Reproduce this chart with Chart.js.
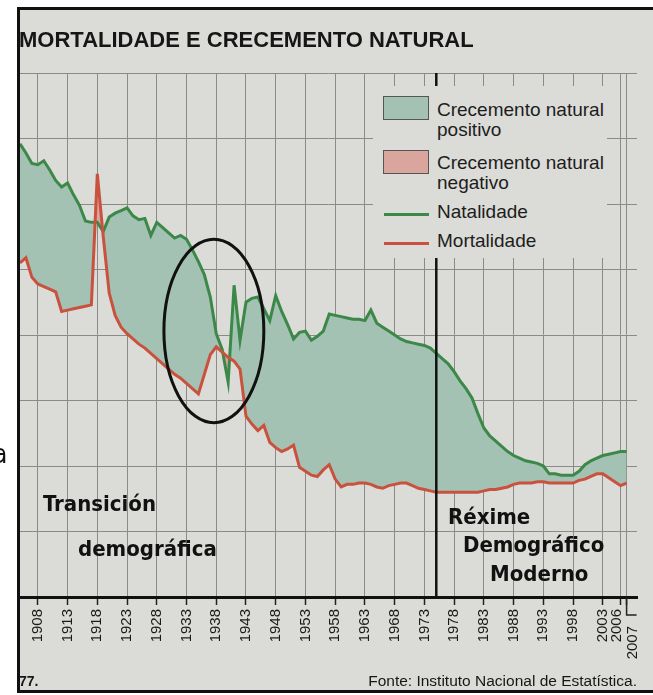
<!DOCTYPE html>
<html>
<head>
<meta charset="utf-8">
<script src="https://cdn.jsdelivr.net/npm/chart.js@4.4.1/dist/chart.umd.min.js"></script>
<style>
  html, body { margin: 0; padding: 0; background: #fff; }
  #page { position: relative; width: 653px; height: 695px; overflow: hidden; font-family: "Liberation Sans", Arial, sans-serif; color: #161616; }
  #frame { position: absolute; left: 17px; top: 7px; width: 640px; height: 680px; background: #dbdbd7;
           border-top: 3px solid #111; border-left: 3px solid #111; border-bottom: 3px solid #111; }
  #chart { position: absolute; left: 0; top: 0; }
  .txt { position: absolute; white-space: nowrap; z-index: 2; }
  .title { left: 19px; top: 29px; font-weight: bold; font-size: 22px; line-height: 22px; }
  .hand { font-family: "DejaVu Sans Condensed", "DejaVu Sans", sans-serif; font-stretch: condensed; font-weight: bold; font-size: 22px; line-height: 22px; color: #111; }
  #legend { position: absolute; left: 373px; top: 86px; width: 234px; height: 172px; background: #dbdbd7; z-index: 2; }
  .leg { position: absolute; left: 64px; font-size: 19px; line-height: 20px; white-space: nowrap; color: #1d1d1d; }
  .sw { position: absolute; left: 10px; width: 44px; height: 22px; border: 1px solid #555; }
  .ln { position: absolute; left: 11px; width: 45px; height: 3px; }
</style>
</head>
<body>
<div id="page">
  <div id="frame"></div>
  <canvas id="chart" width="653" height="695"></canvas>
  <div class="txt title">MORTALIDADE E CRECEMENTO NATURAL</div>
  <div id="legend"></div>
  <div class="txt hand" style="left:43px; top:493px;">Transición</div>
  <div class="txt hand" style="left:78px; top:538px;">demográfica</div>
  <div class="txt hand" style="left:448px; top:506px;">Réxime</div>
  <div class="txt hand" style="left:463px; top:534px;">Demográfico</div>
  <div class="txt hand" style="left:490px; top:563px;">Moderno</div>
  <div class="txt hand" style="left:-7px; top:443px; font-size:26px; font-weight:normal;">a</div>
  <div class="txt" style="left:19px; top:674px; font-size:14px; line-height:14px; font-weight:bold;">77.</div>
  <div class="txt" style="right:16px; top:673px; font-size:15.5px; line-height:16px;">Fonte: Instituto Nacional de Estatística.</div>
</div>
<script>
// taxas por mil habitantes
const years = [1905, 1906, 1907, 1908, 1909, 1910, 1911, 1912, 1913, 1914,
  1915, 1916, 1917, 1918, 1919, 1920, 1921, 1922, 1923, 1924,
  1925, 1926, 1927, 1928, 1929, 1930, 1931, 1932, 1933, 1934,
  1935, 1936, 1937, 1938, 1939, 1940, 1941, 1942, 1943, 1944,
  1945, 1946, 1947, 1948, 1949, 1950, 1951, 1952, 1953, 1954,
  1955, 1956, 1957, 1958, 1959, 1960, 1961, 1962, 1963, 1964,
  1965, 1966, 1967, 1968, 1969, 1970, 1971, 1972, 1973, 1974,
  1975, 1976, 1977, 1978, 1979, 1980, 1981, 1982, 1983, 1984,
  1985, 1986, 1987, 1988, 1989, 1990, 1991, 1992, 1993, 1994,
  1995, 1996, 1997, 1998, 1999, 2000, 2001, 2002, 2003, 2004,
  2005, 2006, 2007];

const natalidade = [34.6, 33.9, 33.1, 33.0, 33.3, 32.6, 31.8, 31.3, 31.6, 30.7,
  29.9, 28.7, 28.6, 28.6, 27.9, 29.0, 29.3, 29.5, 29.7, 29.1,
  28.8, 28.9, 27.6, 28.6, 28.2, 27.8, 27.4, 27.6, 27.3, 26.5,
  25.6, 24.6, 22.9, 20.1, 18.9, 16.4, 23.8, 19.6, 22.5, 22.8,
  22.9, 22.0, 21.1, 23.0, 21.8, 20.8, 19.7, 20.2, 20.3, 19.6,
  19.9, 20.3, 21.6, 21.5, 21.4, 21.3, 21.2, 21.2, 21.1, 21.9,
  20.9, 20.6, 20.3, 20.0, 19.7, 19.5, 19.4, 19.3, 19.2, 19.0,
  18.6, 18.2, 17.8, 17.2, 16.5, 15.9, 15.2, 14.0, 12.9, 12.3,
  11.9, 11.5, 11.1, 10.8, 10.6, 10.4, 10.3, 10.2, 10.0, 9.4,
  9.4, 9.3, 9.3, 9.3, 9.6, 10.1, 10.4, 10.6, 10.8, 10.9,
  11.0, 11.1, 11.1];

const mortalidade = [25.5, 25.9, 24.4, 23.9, 23.7, 23.5, 23.3, 21.8, 21.9, 22.0,
  22.1, 22.2, 22.3, 32.3, 27.5, 23.2, 21.5, 20.6, 20.1, 19.7,
  19.3, 19.0, 18.6, 18.2, 17.8, 17.4, 17.0, 16.7, 16.3, 15.9,
  15.5, 17.0, 18.5, 19.1, 18.7, 18.3, 18.0, 17.4, 13.8, 13.2,
  12.7, 13.1, 11.8, 11.4, 11.1, 11.3, 11.6, 9.9, 9.6, 9.3,
  9.2, 9.7, 10.1, 9.0, 8.4, 8.6, 8.6, 8.7, 8.7, 8.6,
  8.4, 8.3, 8.5, 8.6, 8.7, 8.7, 8.5, 8.3, 8.2, 8.1,
  8.0, 8.0, 8.0, 8.0, 8.0, 8.0, 8.0, 8.0, 8.1, 8.2,
  8.2, 8.3, 8.4, 8.6, 8.7, 8.7, 8.7, 8.8, 8.8, 8.7,
  8.7, 8.7, 8.7, 8.7, 8.9, 9.0, 9.2, 9.4, 9.4, 9.1,
  8.8, 8.5, 8.7];

const tickYears = [1908, 1913, 1918, 1923, 1928, 1933, 1938, 1943, 1948, 1953,
  1958, 1963, 1968, 1973, 1978, 1983, 1988, 1993, 1998, 2003, 2006, 2007];

const modernYear = 1975;

const green = "#3b8848";
const red = "#c9523e";
const posFill = "#a4c2b3";
const negFill = "#d9a59c";
const gridColor = "#8a8a86";

// desprazamento das etiquetas que non caben (px)
const labelNudge = { 2006: [-4, 0], 2007: [6, 17] };

// lenda feita en HTML (duas entradas de recheo e duas liñas)
const legendItems = [
  { kind: "box", color: posFill, lines: ["Crecemento natural", "positivo"], top: 10, textTop: 14 },
  { kind: "box", color: negFill, lines: ["Crecemento natural", "negativo"], top: 64, textTop: 67 },
  { kind: "line", color: green, lines: ["Natalidade"], top: 127, textTop: 116 },
  { kind: "line", color: red, lines: ["Mortalidade"], top: 156, textTop: 145 },
];
const legendEl = document.getElementById("legend");
legendItems.forEach((item) => {
  const mark = document.createElement("div");
  mark.className = item.kind === "box" ? "sw" : "ln";
  mark.style.top = item.top + "px";
  mark.style.background = item.color;
  legendEl.appendChild(mark);
  item.lines.forEach((t, i) => {
    const d = document.createElement("div");
    d.className = "leg";
    d.style.top = item.textTop + i * 20 + "px";
    d.textContent = t;
    legendEl.appendChild(d);
  });
});

const overlay = {
  id: "overlay",
  afterDatasetsDraw(chart) {
    const { ctx, chartArea, scales } = chart;
    const x = scales.x, y = scales.y;
    ctx.save();
    ctx.strokeStyle = "#111";
    // liña do réxime demográfico moderno
    ctx.lineWidth = 2.5;
    const xm = x.getPixelForValue(modernYear);
    ctx.beginPath();
    ctx.moveTo(xm, chartArea.top);
    ctx.lineTo(xm, chartArea.bottom);
    ctx.stroke();
    // círculo da guerra civil
    const cx = x.getPixelForValue(1937.6), cy = y.getPixelForValue(20.3);
    const rx = x.getPixelForValue(1946.0) - cx, ry = cy - y.getPixelForValue(27.3);
    ctx.lineWidth = 3;
    ctx.beginPath();
    ctx.ellipse(cx, cy, rx, ry, 0, 0, Math.PI * 2);
    ctx.stroke();
    ctx.restore();
  },
  afterDraw(chart) {
    const { ctx, chartArea, scales } = chart;
    const x = scales.x;
    ctx.save();
    // marca longa de 2007
    ctx.strokeStyle = "#222";
    ctx.lineWidth = 1.5;
    const x7 = x.getPixelForValue(2007);
    ctx.beginPath();
    ctx.moveTo(x7, chartArea.bottom);
    ctx.lineTo(x7, chartArea.bottom + 18);
    ctx.lineTo(x7 + 10, chartArea.bottom + 18);
    ctx.stroke();
    // etiquetas dos anos, rotadas
    ctx.fillStyle = "#1a1a1a";
    ctx.font = "15px 'Liberation Sans', Arial, sans-serif";
    ctx.textAlign = "right";
    ctx.textBaseline = "middle";
    tickYears.forEach((yr) => {
      const [dx, dy] = labelNudge[yr] || [0, 0];
      ctx.save();
      ctx.translate(x.getPixelForValue(yr) + dx, chartArea.bottom + 12 + dy);
      ctx.rotate(-Math.PI / 2);
      ctx.fillText(String(yr), 0, 0);
      ctx.restore();
    });
    ctx.restore();
  },
};

new Chart(document.getElementById("chart"), {
  type: "line",
  data: {
    datasets: [
      {
        label: "Natalidade",
        data: years.map((yr, i) => ({ x: yr, y: natalidade[i] })),
        borderColor: green,
        borderWidth: 3,
        pointRadius: 0,
        tension: 0,
        fill: { target: 1, above: posFill, below: negFill },
        order: 1,
      },
      {
        label: "Mortalidade",
        data: years.map((yr, i) => ({ x: yr, y: mortalidade[i] })),
        borderColor: red,
        borderWidth: 3,
        pointRadius: 0,
        tension: 0,
        fill: false,
        order: 0,
      },
    ],
  },
  options: {
    responsive: false,
    animation: false,
    devicePixelRatio: 1,
    layout: { padding: { left: 20, right: 16, top: 73, bottom: 23 } },
    plugins: { legend: { display: false }, tooltip: { enabled: false } },
    scales: {
      x: {
        type: "linear",
        min: 1905,
        max: 2008.75,
        afterBuildTicks: (s) => { s.ticks = tickYears.map((v) => ({ value: v })); },
        afterFit: (s) => { s.height = 75; },
        ticks: { display: false, autoSkip: false },
        grid: { color: gridColor, lineWidth: 1, drawTicks: true, tickLength: 8, tickColor: "#222", tickWidth: 1.5 },
        border: { display: true, color: "#111", width: 3 },
      },
      y: {
        min: 0,
        max: 40,
        afterFit: (s) => { s.width = 0; },
        ticks: { display: false, stepSize: 5 },
        grid: { color: gridColor, lineWidth: 1, drawTicks: false },
        border: { display: false },
      },
    },
  },
  plugins: [overlay],
});
</script>
</body>
</html>
